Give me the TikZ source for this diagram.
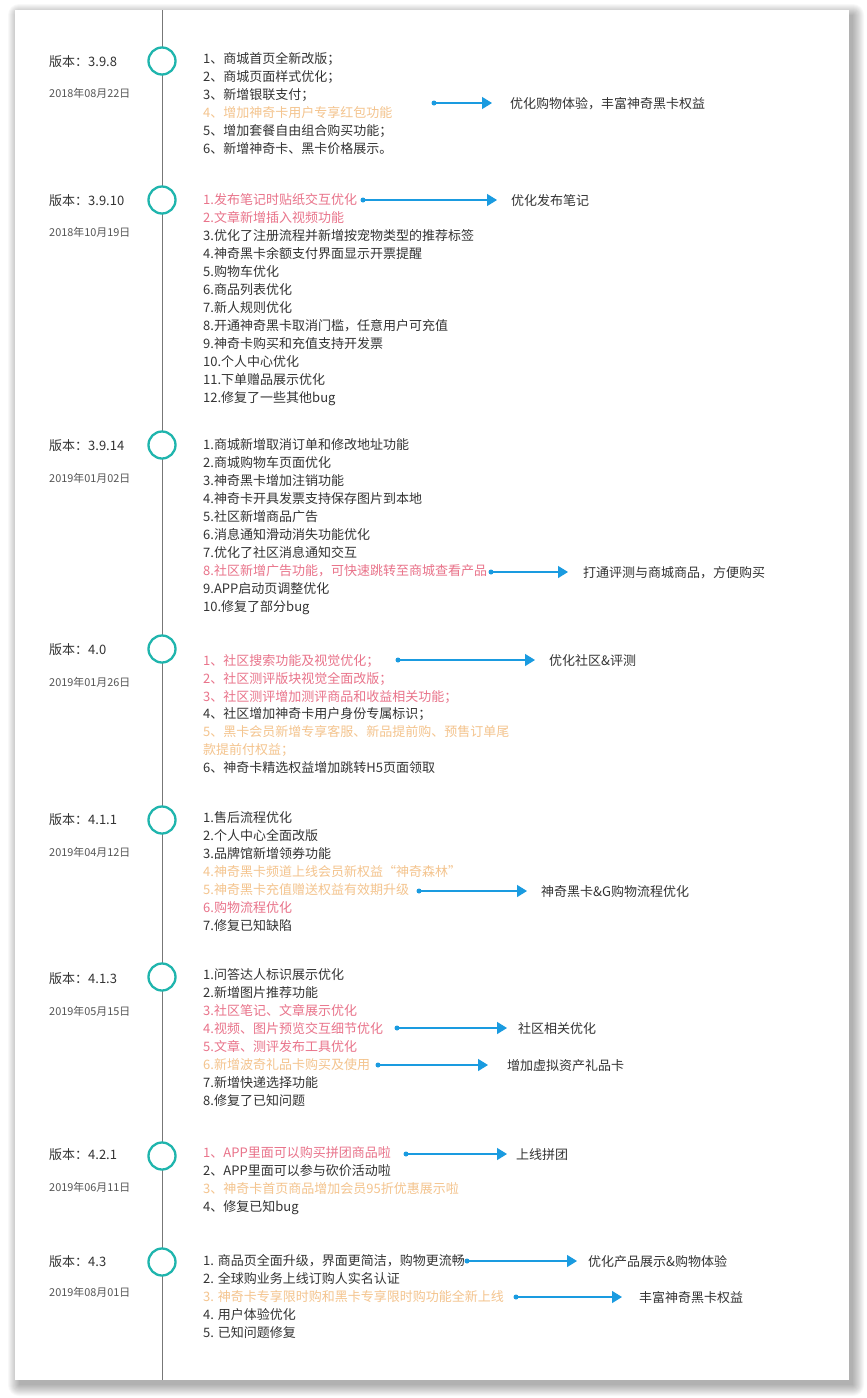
\documentclass[tikz,border=0pt]{standalone}
\usepackage{fontspec}
\setmainfont{Noto Sans CJK SC}
\usetikzlibrary{arrows.meta}
\definecolor{tealc}{HTML}{1FB5AD}
\definecolor{pinkc}{HTML}{E9738A}
\definecolor{orangec}{HTML}{F4C48E}
\definecolor{bluec}{HTML}{1A9BE0}
\definecolor{txt}{HTML}{333333}
\definecolor{datec}{HTML}{555555}
\definecolor{linec}{HTML}{777777}
\begin{document}
\begin{tikzpicture}[x=1pt,y=-1pt,
 item/.style={anchor=west,inner sep=0pt,text height=10pt,text depth=0.2pt,font=\fontsize{13}{15}\selectfont,text=txt},
 pk/.style={item,text=pinkc},
 org/.style={item,text=orangec},
 ver/.style={item,font=\fontsize{13}{15}\selectfont},
 dt/.style={anchor=west,inner sep=0pt,text height=8.5pt,text depth=0.2pt,font=\fontsize{10.9}{12}\selectfont,text=datec},
 ring/.style={circle,draw=tealc,line width=2.3pt,fill=white,minimum size=27pt,inner sep=0pt},
 dotn/.style={circle,fill=bluec,inner sep=0pt,minimum size=5pt},
 conn/.style={bluec,line width=1.3pt,-{Triangle[length=10pt,width=12pt]}},
]
\useasboundingbox (0,0) rectangle (867,1398);
\fill[white] (0,0) rectangle (867,1398);
% shadow
\foreach \e in {0,...,11}{
  \fill[black,opacity=0.026,rounded corners=\e pt] (19-\e,15-\e) rectangle (853+\e,1385+\e);
}
\fill[white] (15,10) rectangle (849,1380);
% timeline
\coordinate (ltop) at (162,10);
\coordinate (lbot) at (162,1380);
\draw[linec,line width=0.9pt] (ltop) -- (lbot);

% ---- 3.9.8
\node[ring] (c1) at (162,61) {};
\node[ver] (v1) at (49,62) {版本：3.9.8};
\node[dt] (d1) at (49,93) {2018年08月22日};
\node[item] (s1a) at (203,59) {1、商城首页全新改版；};
\node[item] (s1b) at (203,77) {2、商城页面样式优化；};
\node[item] (s1c) at (203,95) {3、新增银联支付；};
\node[org] (s1d) at (203,113) {4、增加神奇卡用户专享红包功能};
\node[item] (s1e) at (203,131) {5、增加套餐自由组合购买功能；};
\node[item] (s1f) at (203,149) {6、新增神奇卡、黑卡价格展示。};
\node[dotn] (p1) at (434,103) {};
\coordinate (t1) at (492,103);
\node[item] (r1) at (510,104) {优化购物体验，丰富神奇黑卡权益};
\draw[conn] (p1.center) -- (t1);

% ---- 3.9.10
\node[ring] (c2) at (162,200) {};
\node[ver] (v2) at (49,201) {版本：3.9.10};
\node[dt] (d2) at (49,232) {2018年10月19日};
\node[pk] (s2a) at (203,200) {1.发布笔记时贴纸交互优化};
\node[pk] (s2b) at (203,218) {2.文章新增插入视频功能};
\node[item] (s2c) at (203,236) {3.优化了注册流程并新增按宠物类型的推荐标签};
\node[item] (s2d) at (203,254) {4.神奇黑卡余额支付界面显示开票提醒};
\node[item] (s2e) at (203,272) {5.购物车优化};
\node[item] (s2f) at (203,290) {6.商品列表优化};
\node[item] (s2g) at (203,308) {7.新人规则优化};
\node[item] (s2h) at (203,326) {8.开通神奇黑卡取消门槛，任意用户可充值};
\node[item] (s2i) at (203,344) {9.神奇卡购买和充值支持开发票};
\node[item] (s2j) at (203,362) {10.个人中心优化};
\node[item] (s2k) at (203,380) {11.下单赠品展示优化};
\node[item] (s2l) at (203,398) {12.修复了一些其他bug};
\node[dotn] (p2) at (363,200) {};
\coordinate (t2) at (497,200);
\node[item] (r2) at (511,201) {优化发布笔记};
\draw[conn] (p2.center) -- (t2);

% ---- 3.9.14
\node[ring] (c3) at (162,445) {};
\node[ver] (v3) at (49,446) {版本：3.9.14};
\node[dt] (d3) at (49,478) {2019年01月02日};
\node[item] (s3a) at (203,445) {1.商城新增取消订单和修改地址功能};
\node[item] (s3b) at (203,463) {2.商城购物车页面优化};
\node[item] (s3c) at (203,481) {3.神奇黑卡增加注销功能};
\node[item] (s3d) at (203,499) {4.神奇卡开具发票支持保存图片到本地};
\node[item] (s3e) at (203,517) {5.社区新增商品广告};
\node[item] (s3f) at (203,535) {6.消息通知滑动消失功能优化};
\node[item] (s3g) at (203,553) {7.优化了社区消息通知交互};
\node[pk] (s3h) at (203,571) {8.社区新增广告功能，可快速跳转至商城查看产品};
\node[item] (s3i) at (203,589) {9.APP启动页调整优化};
\node[item] (s3j) at (203,607) {10.修复了部分bug};
\node[dotn] (p3) at (491,572) {};
\coordinate (t3) at (568,572);
\node[item] (r3) at (583,573) {打通评测与商城商品，方便购买};
\draw[conn] (p3.center) -- (t3);

% ---- 4.0
\node[ring] (c4) at (162,649) {};
\node[ver] (v4) at (49,650) {版本：4.0};
\node[dt] (d4) at (49,682) {2019年01月26日};
\node[pk] (s4a) at (203,661) {1、社区搜索功能及视觉优化；};
\node[pk] (s4b) at (203,679) {2、社区测评版块视觉全面改版；};
\node[pk] (s4c) at (203,697) {3、社区测评增加测评商品和收益相关功能；};
\node[item] (s4d) at (203,714) {4、社区增加神奇卡用户身份专属标识；};
\node[org] (s4e) at (203,732) {5、黑卡会员新增专享客服、新品提前购、预售订单尾};
\node[org] (s4f) at (203,750) {款提前付权益；};
\node[item] (s4g) at (203,768) {6、神奇卡精选权益增加跳转H5页面领取};
\node[dotn] (p4) at (398,660) {};
\coordinate (t4) at (535,660);
\node[item] (r4) at (549,661) {优化社区\&评测};
\draw[conn] (p4.center) -- (t4);

% ---- 4.1.1
\node[ring] (c5) at (162,820) {};
\node[ver] (v5) at (49,820) {版本：4.1.1};
\node[dt] (d5) at (49,852) {2019年04月12日};
\node[item] (s5a) at (203,818) {1.售后流程优化};
\node[item] (s5b) at (203,836) {2.个人中心全面改版};
\node[item] (s5c) at (203,854) {3.品牌馆新增领券功能};
\node[org] (s5d) at (203,872) {4.神奇黑卡频道上线会员新权益“神奇森林”};
\node[org] (s5e) at (203,890) {5.神奇黑卡充值赠送权益有效期升级};
\node[pk] (s5f) at (203,908) {6.购物流程优化};
\node[item] (s5g) at (203,926) {7.修复已知缺陷};
\node[dotn] (p5) at (419,891) {};
\coordinate (t5) at (527,891);
\node[item] (r5) at (541,892) {神奇黑卡\&G购物流程优化};
\draw[conn] (p5.center) -- (t5);

% ---- 4.1.3
\node[ring] (c6) at (162,977) {};
\node[ver] (v6) at (49,979) {版本：4.1.3};
\node[dt] (d6) at (49,1011) {2019年05月15日};
\node[item] (s6a) at (203,975) {1.问答达人标识展示优化};
\node[item] (s6b) at (203,993) {2.新增图片推荐功能};
\node[pk] (s6c) at (203,1011) {3.社区笔记、文章展示优化};
\node[pk] (s6d) at (203,1029) {4.视频、图片预览交互细节优化};
\node[pk] (s6e) at (203,1047) {5.文章、测评发布工具优化};
\node[org] (s6f) at (203,1065) {6.新增波奇礼品卡购买及使用};
\node[item] (s6g) at (203,1083) {7.新增快递选择功能};
\node[item] (s6h) at (203,1101) {8.修复了已知问题};
\node[dotn] (p6) at (397,1028) {};
\coordinate (t6) at (507,1028);
\node[item] (r6) at (518,1029) {社区相关优化};
\draw[conn] (p6.center) -- (t6);
\node[dotn] (p7) at (378,1065) {};
\coordinate (t7) at (488,1065);
\node[item] (r7) at (507,1066) {增加虚拟资产礼品卡};
\draw[conn] (p7.center) -- (t7);

% ---- 4.2.1
\node[ring] (c7) at (162,1156) {};
\node[ver] (v7) at (49,1155) {版本：4.2.1};
\node[dt] (d7) at (49,1187) {2019年06月11日};
\node[pk] (s7a) at (203,1153) {1、APP里面可以购买拼团商品啦};
\node[item] (s7b) at (203,1171) {2、APP里面可以参与砍价活动啦};
\node[org] (s7c) at (203,1189) {3、神奇卡首页商品增加会员95折优惠展示啦};
\node[item] (s7d) at (203,1207) {4、修复已知bug};
\node[dotn] (p8) at (406,1154) {};
\coordinate (t8) at (507,1154);
\node[item] (r8) at (516,1155) {上线拼团};
\draw[conn] (p8.center) -- (t8);

% ---- 4.3
\node[ring] (c8) at (162,1262) {};
\node[ver] (v8) at (49,1262) {版本：4.3};
\node[dt] (d8) at (49,1292) {2019年08月01日};
\node[item] (s8a) at (203,1261) {1. 商品页全面升级，界面更简洁，购物更流畅};
\node[item] (s8b) at (203,1279) {2. 全球购业务上线订购人实名认证};
\node[org] (s8c) at (203,1297) {3. 神奇卡专享限时购和黑卡专享限时购功能全新上线};
\node[item] (s8d) at (203,1315) {4. 用户体验优化};
\node[item] (s8e) at (203,1333) {5. 已知问题修复};
\node[dotn] (p9) at (467,1261) {};
\coordinate (t9) at (577,1261);
\node[item] (r9) at (588,1262) {优化产品展示\&购物体验};
\draw[conn] (p9.center) -- (t9);
\node[dotn] (p10) at (516,1297) {};
\coordinate (t10) at (622,1297);
\node[item] (r10) at (639,1298) {丰富神奇黑卡权益};
\draw[conn] (p10.center) -- (t10);
\end{tikzpicture}
\end{document}
